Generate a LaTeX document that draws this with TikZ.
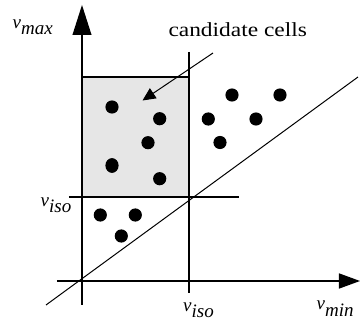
\documentclass[tikz,border=0pt]{standalone}
\usepackage{fontspec}
\setmainfont{Liberation Serif}
\usetikzlibrary{arrows.meta}
\definecolor{boxgray}{HTML}{E6E6E6}
\tikzset{
  heavy/.style={line width=2.6pt},
  light/.style={line width=1pt},
  lbl/.style={inner sep=0pt, anchor=base west, font=\fontsize{19}{22}\selectfont\itshape},
}
\newcommand{\vsub}[2]{#1\raisebox{-6pt}{#2}}
\begin{document}
\begin{tikzpicture}[x=1pt,y=-1pt]
\useasboundingbox (0,0) rectangle (360,324);
% shaded candidate region
\fill[boxgray] (82,77) rectangle (189,197);
% grid lines
\draw[heavy] (82,77) -- (189,77);
\draw[heavy] (189,52) -- (189,293);
\draw[heavy] (69,197) -- (239,197);
% axes
\coordinate (yb) at (82,305);
\coordinate (yt) at (82,32);
\coordinate (xl) at (57,281);
\coordinate (xr) at (342,281);
\draw[heavy] (yb) -- (yt);
\fill (82,5) -- (72.4,35) -- (91.6,35) -- cycle;
\draw[heavy] (xl) -- (xr);
\fill (360,281) -- (339,273.3) -- (339,288.7) -- cycle;
% diagonal
\coordinate (d1) at (46,305);
\coordinate (d2) at (358,77);
\draw[light] (d1) -- (d2);
% dots inside box
\foreach \p in {(112,107),(159.7,118.7),(148,142.7),(159.7,178.7)}
  \fill \p circle (6.6);
\fill (112,165.5) ellipse (6.6 and 7.4);
% dots right
\foreach \p in {(232,95),(280,95),(208.3,119),(256,119),(220,142.5)}
  \fill \p circle (6.6);
% dots below
\foreach \p in {(100.3,215),(135.3,215),(121.3,236)}
  \fill \p circle (6.6);
% labels
\node[lbl] (vmax) at (12.5,28.5) {\vsub{v}{max}};
\node[lbl] (visoL) at (40.5,206.7) {\vsub{v}{iso}};
\node[lbl] (visoB) at (183,312) {\vsub{v}{iso}};
\node[lbl] (vmin) at (316.5,310) {\vsub{v}{min}};
\node[inner sep=0pt, anchor=base west, font=\fontsize{20}{24}\selectfont] (cand) at (168.3,36.7) {\scalebox{1.17}[1]{candidate cells}};
% candidate arrow
\coordinate (a1) at (213,53);
\coordinate (a2) at (142.5,100.5);
\draw[light, -{Triangle[length=13pt,width=12pt]}] (a1) -- (a2);
\end{tikzpicture}
\end{document}
